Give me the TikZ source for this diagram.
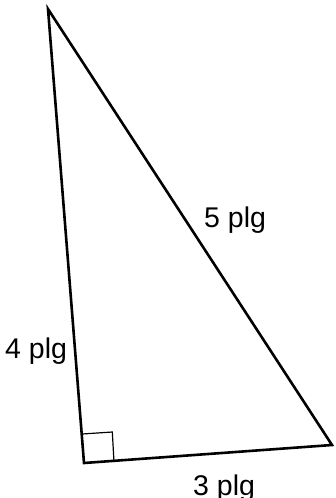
\documentclass[tikz,border=0pt]{standalone}
\usepackage{fontspec}
\setmainfont{Liberation Sans}
\begin{document}
\begin{tikzpicture}[x=1pt,y=-1pt,
  edge/.style={line width=2.6pt,line join=miter},
  lbl/.style={font=\fontsize{28.5}{28.5}\selectfont,inner sep=0pt,anchor=base west}]
\useasboundingbox (0,0) rectangle (335,498);
\coordinate (A) at (48,9);
\coordinate (B) at (84,463);
\coordinate (C) at (332,445);
\draw[edge] (A) -- (B) -- (C) -- cycle;
\coordinate (s1) at (82.3,434);
\coordinate (s2) at (112.3,432);
\coordinate (s3) at (114,462);
\draw[line width=1.2pt] (s1) -- (s2) -- (s3);
\node[lbl] (l5) at (204,227) {5 plg};
\node[lbl] (l4) at (5,358) {4 plg};
\node[lbl] (l3) at (193,495) {3 plg};
\end{tikzpicture}
\end{document}
